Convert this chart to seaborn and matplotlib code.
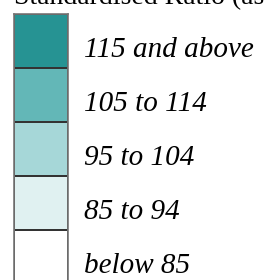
import numpy as np
import pandas as pd
import matplotlib
matplotlib.use("Agg")
import matplotlib.pyplot as plt
from matplotlib.colors import ListedColormap
import seaborn as sns

# legend classes, top to bottom
labels = ["115 and above", "105 to 114", "95 to 104", "85 to 94", "below 85"]
colours = ["#269393", "#63b7b7", "#a6d7d8", "#e0f1f1", "#ffffff"]
title = "Standardised Ratio (as"

sns.set_style("white")
plt.rcParams["font.family"] = ["Liberation Serif", "DejaVu Serif"]
plt.rcParams["text.color"] = "black"
plt.rcParams["ytick.color"] = "black"

W, H, DPI = 265, 280, 100
fig = plt.figure(figsize=(W / DPI, H / DPI), dpi=DPI)

# one column heatmap, each cell one class
cell = 54
top = 14
ax = fig.add_axes([14 / W, (H - top - cell * len(labels)) / H, 54 / W, cell * len(labels) / H])

df = pd.DataFrame({"cls": np.arange(len(labels))}, index=labels)
sns.heatmap(df, ax=ax, cmap=ListedColormap(colours), cbar=False,
            linewidths=1.2, linecolor="#333333", xticklabels=False)

ax.yaxis.tick_right()
ax.set_yticks(np.arange(len(labels)) + 0.8)
ax.set_yticklabels(labels, rotation=0, fontstyle="italic", fontsize=21, va="baseline", color="black")
ax.tick_params(axis="y", length=0, pad=11.5)
ax.set_ylabel("")

for s in ax.spines.values():
    s.set_visible(True)
    s.set_color("#777777")
    s.set_linewidth(1.2)

ax.set_title(title, loc="left", fontsize=20, pad=7, color="black")

fig.savefig("out.png", dpi=DPI)
